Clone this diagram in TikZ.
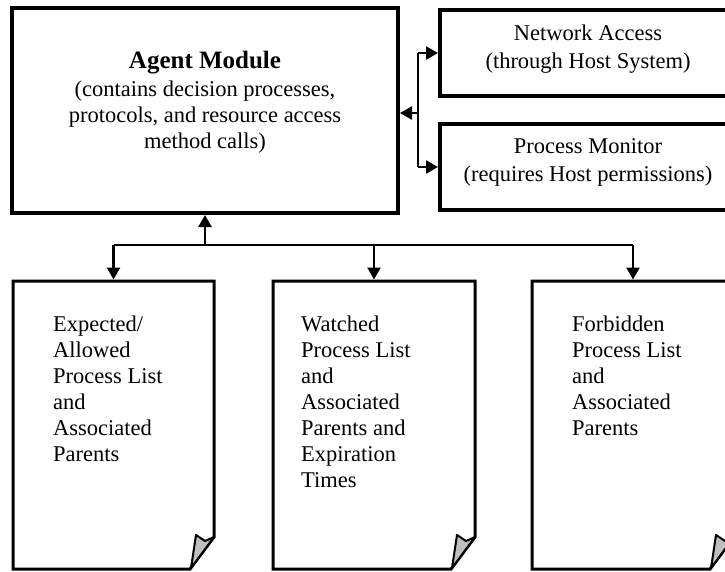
\documentclass[tikz,border=0pt]{standalone}
\usepackage{fontspec}
\setmainfont{Liberation Serif}
\usetikzlibrary{arrows.meta}

% outline of a page with a curled lower-right corner, drawn round node #1
\newcommand{\pageoutline}[1]{%
  \draw[docline] (#1.north west) -- (#1.north east)
    -- ([yshift=32pt]#1.south east) -- ([xshift=-24pt]#1.south east)
    -- (#1.south west) -- cycle;
  \filldraw[flap] ([yshift=32pt]#1.south east)
    -- ([xshift=-9pt,yshift=28pt]#1.south east)
    -- ([xshift=-18pt,yshift=34pt]#1.south east)
    -- ([xshift=-23pt,yshift=1pt]#1.south east) -- cycle;
}

\begin{document}
\begin{tikzpicture}[x=1pt,y=-1pt,
  modbox/.style={draw=black, line width=4pt, inner sep=0pt, rectangle},
  docarea/.style={inner sep=0pt, outer sep=0pt, minimum width=#1, minimum height=288pt},
  txt/.style={font=\fontsize{22.5}{26}\selectfont, inner sep=0pt, align=center},
  sidetxt/.style={font=\fontsize{22.5}{28}\selectfont, inner sep=0pt, align=center},
  doctxt/.style={font=\fontsize{22.5}{26}\selectfont, inner sep=0pt, align=left, anchor=north west},
  link/.style={line width=2.4pt},
  arr/.style={link, -{Triangle[length=12pt,width=13pt]}},
  arrdoc/.style={arr, shorten >=1.5pt},
  docline/.style={line width=3pt, line join=miter},
  flap/.style={fill=black!25, draw=black, line width=2pt, line join=round}]

\clip (0,0) rectangle (725,571);

% modules
\node[modbox, minimum width=386pt, minimum height=205pt] (agent) at (205,110.5) {};
\node[modbox, minimum width=296pt, minimum height=86pt] (net) at (588,53) {};
\node[modbox, minimum width=296pt, minimum height=86pt] (pm) at (588,167) {};

\node[txt] (agentlbl) at (205,102)
  {{\fontsize{25}{26}\selectfont\bfseries Agent Module}\\[2pt](contains decision processes,\\protocols, and resource access\\method calls)};
\node[sidetxt] (netlbl) at (588,49) {Network Access\\(through Host System)};
\node[sidetxt] (pmlbl) at (588,162) {Process Monitor\\(requires Host permissions)};

% process lists
\node[docarea=201pt] (exp) at (113.5,425) {};
\node[docarea=202pt] (wat) at (374,425) {};
\node[docarea=202pt] (forb) at (633,425) {};
\pageoutline{exp}
\pageoutline{wat}
\pageoutline{forb}

\node[doctxt] (exptxt) at (53,316)
  {Expected/\\Allowed\\Process List\\and\\Associated\\Parents};
\node[doctxt] (wattxt) at (301,316)
  {Watched\\Process List\\and\\Associated\\Parents and\\Expiration\\Times};
\node[doctxt] (forbtxt) at (572,316)
  {Forbidden\\Process List\\and\\Associated\\Parents};

% connectors to the host-side modules
\coordinate (jr) at (418,113);
\draw[link] (jr |- net.west) -- (jr |- pm.west);
\draw[arr] (jr) -- (jr -| agent.east);
\draw[arr] (jr |- net.west) -- (net.west);
\draw[arr] (jr |- pm.west) -- (pm.west);

% connectors to the process lists
\coordinate (jb) at (205,245);
\draw[arr] (jb) -- (agent.south);
\draw[link] (jb -| exp.north) -- (jb -| forb.north);
\draw[arrdoc] (jb -| exp.north) -- (exp.north);
\draw[arrdoc] (jb -| wat.north) -- (wat.north);
\draw[arrdoc] (jb -| forb.north) -- (forb.north);
\end{tikzpicture}
\end{document}
